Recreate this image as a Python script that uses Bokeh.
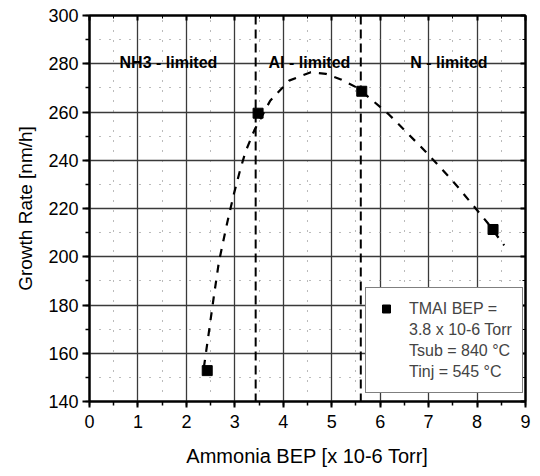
from bokeh.plotting import figure
from bokeh.models import (LinearAxis, Range1d, Span, Legend, LegendItem,
                          SingleIntervalTicker)
from bokeh.core.properties import value
from bokeh.embed import file_html
from bokeh.resources import INLINE

# Measured data points
bep = [2.43, 3.48, 5.62, 8.33]
rate = [152.8, 259.5, 268.6, 211.3]

# Dashed guide curve
curve_x = [2.36, 2.45, 2.56, 2.67, 2.83, 2.98, 3.11, 3.22, 3.40, 3.73, 4.12,
           4.57, 4.88, 5.19, 5.53, 5.83, 6.18, 6.6, 6.94, 7.29, 7.6, 7.91,
           8.22, 8.56]
curve_y = [154, 166.7, 182.6, 197.7, 213, 226, 236, 243.5, 252.3, 264.7, 273,
           276.5, 275.8, 273.5, 270, 265, 259, 250.5, 243.5, 236, 229,
           221.5, 214, 204.7]

# Regime boundaries
boundaries = [3.43, 5.6]

# Region labels
region_x = [1.63, 4.54, 7.42]
region_y = [280.6, 280.6, 280.6]
region_text = ["NH3 - limited", "Al - limited", "N - limited"]

legend_lines = ["TMAI BEP =", "3.8 x 10-6 Torr", "Tsub = 840 °C", "Tinj = 545 °C"]

x_ticks = list(range(0, 10))
y_ticks = list(range(140, 301, 20))

FONT = "Liberation Sans"

p = figure(width=540, height=476, output_backend="svg", toolbar_location=None,
           x_range=Range1d(0, 9), y_range=Range1d(140, 300),
           min_border_left=89, min_border_right=15, min_border_top=15,
           min_border_bottom=75, background_fill_color="white",
           border_fill_color="white")

p.outline_line_color = "black"
p.outline_line_width = 2

# axes
for ax in (p.xaxis[0], p.yaxis[0]):
    ax.axis_line_width = 2
    ax.axis_line_color = "black"
    ax.major_tick_line_width = 2
    ax.minor_tick_line_width = 1.5
    ax.major_tick_in = 0
    ax.minor_tick_out = 4
    ax.minor_tick_in = 0
    ax.major_label_text_font = FONT
    ax.major_label_text_font_size = "18px"
    ax.major_label_text_color = "black"
    ax.axis_label_text_font = FONT
    ax.axis_label_text_font_style = "normal"
    ax.axis_label_text_color = "black"

p.xaxis[0].ticker = SingleIntervalTicker(interval=1, num_minor_ticks=2)
p.yaxis[0].ticker = SingleIntervalTicker(interval=20, num_minor_ticks=2)
p.xaxis[0].axis_label = "Ammonia BEP [x 10-6 Torr]"
p.yaxis[0].axis_label = "Growth Rate [nm/h]"
p.xaxis[0].axis_label_text_font_size = "20px"
p.yaxis[0].axis_label_text_font_size = "19px"
p.xaxis[0].major_tick_out = 6
p.yaxis[0].major_tick_out = 7
p.xaxis[0].axis_label_standoff = 14
p.yaxis[0].axis_label_standoff = 9
p.xaxis[0].major_label_standoff = 7
p.yaxis[0].major_label_standoff = 4

# inside ticks on top and right
top = LinearAxis(ticker=SingleIntervalTicker(interval=1, num_minor_ticks=2),
                 major_label_overrides={t: "" for t in x_ticks})
right = LinearAxis(ticker=SingleIntervalTicker(interval=20, num_minor_ticks=2),
                   major_label_overrides={t: "" for t in y_ticks})
for ax in (top, right):
    ax.axis_line_width = 2
    ax.major_tick_in = 5
    ax.major_tick_out = 0
    ax.minor_tick_in = 3
    ax.minor_tick_out = 0
    ax.major_tick_line_width = 2
    ax.major_label_text_font_size = "1px"
    ax.major_label_standoff = 0
p.add_layout(top, "above")
p.add_layout(right, "right")

# grids
for g, tk in ((p.xgrid[0], SingleIntervalTicker(interval=1, num_minor_ticks=2)),
              (p.ygrid[0], SingleIntervalTicker(interval=20, num_minor_ticks=2))):
    g.ticker = tk
    g.grid_line_color = "#3a3a3a"
    g.grid_line_width = 1.3
    g.minor_grid_line_color = "#777777"
    g.minor_grid_line_dash = "1 9"
    g.minor_grid_line_width = 1

# boundaries
for b in boundaries:
    p.add_layout(Span(location=b, dimension="height", line_color="black",
                      line_width=2, line_dash="9 5"))

# curve
p.line(curve_x, curve_y, line_color="black", line_width=2.2, line_dash="8 8")

# points
pts = p.scatter(bep, rate, marker="square", size=10, color="black")
dummy = p.scatter(bep, rate, marker="square", size=0, fill_alpha=0, line_alpha=0)

# region labels
p.text(x=region_x, y=region_y, text=region_text, text_font=value(FONT),
       text_font_style="bold", text_font_size="16px", text_align="center",
       text_baseline="alphabetic", text_color="black")

items = [LegendItem(label=legend_lines[0], renderers=[pts])]
for t in legend_lines[1:]:
    items.append(LegendItem(label=t, renderers=[dummy]))
leg = Legend(items=items, location=(276, 8), padding=10, spacing=0, margin=0,
             glyph_width=20, glyph_height=21, label_height=21, label_standoff=13,
             label_text_font=FONT, label_text_font_size="16px",
             label_text_baseline="middle", border_line_color="black",
             border_line_width=1.5, background_fill_color="white",
             background_fill_alpha=1)
p.add_layout(leg, "center")

open("out.html", "w").write(file_html(p, INLINE))
